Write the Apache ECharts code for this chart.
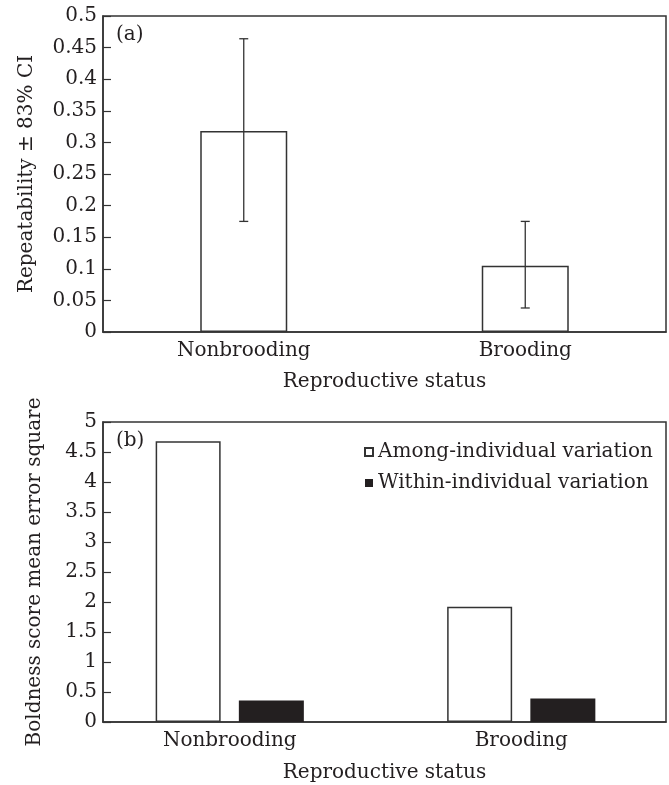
<!DOCTYPE html>
<html><head><meta charset="utf-8">
<script src="https://cdn.jsdelivr.net/npm/echarts@6/dist/echarts.min.js"></script>
<style>html,body{margin:0;padding:0;background:#fff}#c{width:669px;height:785px}</style>
</head><body><div id="c"></div>
<script>
// ---- data ----
const categories = ['Nonbrooding', 'Brooding'];
const repeatability = [0.318, 0.105];
const ciLower = [0.175, 0.038];
const ciUpper = [0.464, 0.175];
const seriesNames = ['Among-individual variation', 'Within-individual variation'];
const amongVar = [4.68, 1.92];
const withinVar = [0.36, 0.39];
const xTitle = 'Reproductive status';
const yTitleTop = 'Repeatability \u00b1 83% CI';
const yTitleBottom = 'Boldness score mean error square';
const panelLabels = ['(a)', '(b)'];

// ---- style ----
const FONT = 'DejaVu Serif';
const INK = '#231f20';
const LINE = '#333';
const txt = (size) => ({ fontFamily: FONT, fontSize: size, color: INK });

const chart = echarts.init(document.getElementById('c'), null, { renderer: 'canvas' });

const yAxisCommon = {
  type: 'value',
  axisLine: { show: true, lineStyle: { color: LINE, width: 1.5 } },
  axisTick: { show: true, inside: true, length: 8, lineStyle: { color: LINE, width: 1.2 } },
  axisLabel: Object.assign(txt(20), { margin: 6 }),
  splitLine: { show: false },
  nameLocation: 'middle',
  nameRotate: 90,
  nameTextStyle: txt(20),
  nameMoveOverlap: false
};

const option = {
  animation: false,
  backgroundColor: '#fff',
  grid: [
    { left: 103, top: 16, width: 563, height: 316, show: true, borderColor: LINE, borderWidth: 1.5, backgroundColor: 'transparent' },
    { left: 103, top: 422, width: 563, height: 300, show: true, borderColor: LINE, borderWidth: 1.5, backgroundColor: 'transparent' },
    { left: 84, top: 422, width: 583, height: 300, show: false }
  ],
  xAxis: [
    {
      gridIndex: 0, type: 'category', data: categories,
      axisLine: { show: true, lineStyle: { color: LINE, width: 1.5 } },
      axisTick: { show: false },
      axisLabel: Object.assign(txt(20), { margin: 9 }),
      name: xTitle, nameLocation: 'middle', nameGap: 40, nameTextStyle: txt(20), nameMoveOverlap: false
    },
    {
      gridIndex: 1, type: 'category', data: categories,
      axisLine: { show: true, lineStyle: { color: LINE, width: 1.5 } },
      axisTick: { show: false }, axisLabel: { show: false },
      name: xTitle, nameLocation: 'middle', nameGap: 41, nameTextStyle: txt(20), nameMoveOverlap: false
    },
    {
      gridIndex: 2, type: 'category', data: categories,
      axisLine: { show: false }, axisTick: { show: false },
      axisLabel: Object.assign(txt(20), { margin: 9 })
    }
  ],
  yAxis: [
    Object.assign({}, yAxisCommon, { gridIndex: 0, min: 0, max: 0.5, interval: 0.05, name: yTitleTop, nameGap: 66 }),
    Object.assign({}, yAxisCommon, { gridIndex: 1, min: 0, max: 5, interval: 0.5, name: yTitleBottom, nameGap: 58 }),
    { gridIndex: 2, type: 'value', min: 0, max: 5, show: false }
  ],
  legend: {
    data: seriesNames,
    orient: 'vertical',
    left: 359, top: 437,
    itemWidth: 8, itemHeight: 8, itemGap: 11,
    icon: 'rect',
    textStyle: txt(20)
  },
  graphic: [
    { type: 'text', left: 116, top: 25, style: { text: panelLabels[0], font: '20px "DejaVu Serif"', fill: INK } },
    { type: 'text', left: 116, top: 431, style: { text: panelLabels[1], font: '20px "DejaVu Serif"', fill: INK } }
  ],
  series: [
    {
      type: 'bar', xAxisIndex: 0, yAxisIndex: 0, data: repeatability, barWidth: 87,
      itemStyle: { color: '#fff', borderColor: LINE, borderWidth: 1.5 }, z: 2
    },
    {
      type: 'custom', xAxisIndex: 0, yAxisIndex: 0, z: 5,
      data: categories.map((c, i) => [i, ciLower[i], ciUpper[i]]),
      renderItem: (params, api) => {
        const x = api.value(0);
        const lo = api.coord([x, api.value(1)]);
        const hi = api.coord([x, api.value(2)]);
        const w = 4.5;
        const st = { stroke: LINE, lineWidth: 1.3 };
        return {
          type: 'group', children: [
            { type: 'line', shape: { x1: lo[0], y1: lo[1], x2: hi[0], y2: hi[1] }, style: st },
            { type: 'line', shape: { x1: lo[0] - w, y1: lo[1], x2: lo[0] + w, y2: lo[1] }, style: st },
            { type: 'line', shape: { x1: hi[0] - w, y1: hi[1], x2: hi[0] + w, y2: hi[1] }, style: st }
          ]
        };
      }
    },
    {
      name: seriesNames[0], type: 'bar', xAxisIndex: 2, yAxisIndex: 2, data: amongVar,
      barWidth: 65, barGap: '28%',
      itemStyle: { color: '#fff', borderColor: LINE, borderWidth: 1.5 }
    },
    {
      name: seriesNames[1], type: 'bar', xAxisIndex: 2, yAxisIndex: 2, data: withinVar,
      barWidth: 65, barGap: '28%',
      itemStyle: { color: INK, borderColor: INK, borderWidth: 0 }
    }
  ]
};
chart.setOption(option);
</script>
</body></html>
